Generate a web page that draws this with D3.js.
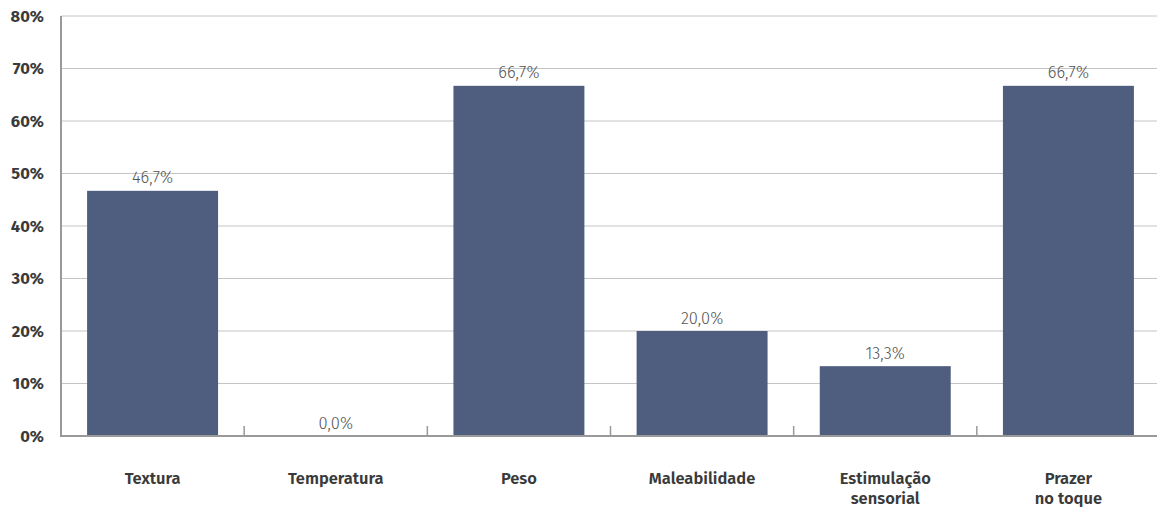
<!DOCTYPE html>
<html>
<head>
<meta charset="utf-8">
<script src="https://cdn.jsdelivr.net/npm/d3@7"></script>
<style>
  html, body { margin: 0; padding: 0; background: #fff; }
  svg { display: block; }
</style>
</head>
<body>
<svg id="chart" width="1157" height="507"></svg>
<script>
// Categories (each entry may span multiple lines)
const categories = [
  ["Textura"],
  ["Temperatura"],
  ["Peso"],
  ["Maleabilidade"],
  ["Estimulação", "sensorial"],
  ["Prazer", "no toque"]
];
const values = [46.7, 0.0, 66.7, 20.0, 13.3, 66.7];
const yTicks = [0, 10, 20, 30, 40, 50, 60, 70, 80];

const W = 1157, H = 507;
const margin = { top: 16, right: -3, bottom: 71, left: 61 };
const innerW = W - margin.left - margin.right;
const innerH = H - margin.top - margin.bottom;

const svg = d3.select("#chart");
const g = svg.append("g").attr("transform", `translate(${margin.left},${margin.top})`);

const keys = categories.map(c => c.join(" "));
const x = d3.scaleBand().domain(keys).range([0, innerW]).paddingInner(0.285).paddingOuter(0.1425);
const y = d3.scaleLinear().domain([0, 80]).range([innerH, 0]);

const fontFam = "'Fira Sans', 'Noto Sans', 'Open Sans', sans-serif";

// Horizontal gridlines
g.append("g")
  .selectAll("line")
  .data(yTicks.filter(t => t > 0))
  .join("line")
  .attr("x1", 0).attr("x2", innerW)
  .attr("y1", d => y(d)).attr("y2", d => y(d))
  .attr("stroke", "#c4c4c4").attr("stroke-width", 1);

// Y axis labels
const yAxis = d3.axisLeft(y).tickValues(yTicks).tickSize(0).tickPadding(17).tickFormat(d => d + "%");
const ya = g.append("g").call(yAxis);
ya.select(".domain").remove();
ya.selectAll("text")
  .attr("font-family", fontFam)
  .attr("font-size", 16.5)
  .attr("font-weight", 700)
  .attr("fill", "#3a3a3a");

// Bars
g.append("g")
  .selectAll("rect")
  .data(values)
  .join("rect")
  .attr("x", (d, i) => x(keys[i]))
  .attr("y", d => y(d))
  .attr("width", x.bandwidth())
  .attr("height", d => innerH - y(d))
  .attr("fill", "#4f5d7e");

// Value labels
g.append("g")
  .selectAll("text")
  .data(values)
  .join("text")
  .attr("x", (d, i) => x(keys[i]) + x.bandwidth() / 2)
  .attr("y", d => y(d) - 7.5)
  .attr("text-anchor", "middle")
  .attr("font-family", fontFam)
  .attr("font-size", 16.5)
  .attr("font-weight", 300)
  .attr("fill", "#555")
  .text(d => d.toFixed(1).replace(".", ",") + "%");

// Category separator ticks
const step = x.step();
const bounds = d3.range(1, categories.length).map(i => i * step);
g.append("g")
  .selectAll("line")
  .data(bounds)
  .join("line")
  .attr("x1", d => d).attr("x2", d => d)
  .attr("y1", innerH - 10).attr("y2", innerH)
  .attr("stroke", "#999").attr("stroke-width", 1.5);

// Axis lines
g.append("line")
  .attr("x1", 0).attr("x2", 0)
  .attr("y1", 0).attr("y2", innerH + 1)
  .attr("stroke", "#999").attr("stroke-width", 2);
g.append("line")
  .attr("x1", -1).attr("x2", innerW)
  .attr("y1", innerH).attr("y2", innerH)
  .attr("stroke", "#999").attr("stroke-width", 2);

// Category labels
const cl = g.append("g")
  .selectAll("text")
  .data(categories)
  .join("text")
  .attr("x", (d, i) => x(keys[i]) + x.bandwidth() / 2)
  .attr("y", innerH + 48)
  .attr("text-anchor", "middle")
  .attr("font-family", fontFam)
  .attr("font-size", 16.5)
  .attr("font-weight", 600)
  .attr("fill", "#3a3a3a");
cl.selectAll("tspan")
  .data(d => d)
  .join("tspan")
  .attr("x", function () { return d3.select(this.parentNode).attr("x"); })
  .attr("dy", (d, i) => i === 0 ? 0 : 20)
  .text(d => d);
</script>
</body>
</html>
